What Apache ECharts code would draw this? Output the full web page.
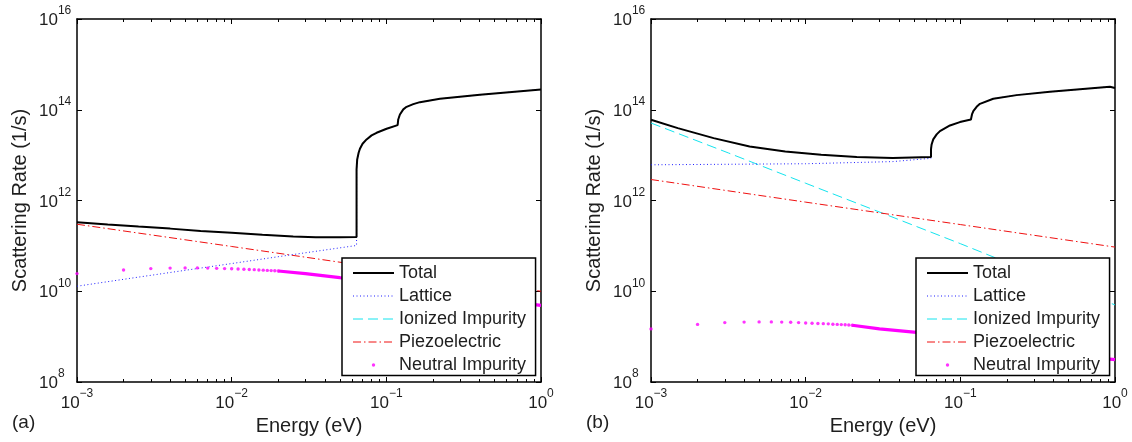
<!DOCTYPE html>
<html>
<head>
<meta charset="utf-8">
<script src="https://cdn.jsdelivr.net/npm/echarts@6/dist/echarts.min.js"></script>
<style>
  html, body { margin: 0; padding: 0; background: #ffffff; }
  #chart { width: 1132px; height: 442px; }
</style>
</head>
<body>
<div id="chart"></div>
<script>
// ---- axis ticks -------------------------------------------------------
const energyTicks = [0.001, 0.01, 0.1, 1];
const rateTicks = [1e8, 1e10, 1e12, 1e14, 1e16];

const legendNames = ['Total', 'Lattice', 'Ionized Impurity', 'Piezoelectric', 'Neutral Impurity'];
const panelTags = ['(a)', '(b)'];
const energyTitle = 'Energy (eV)';
const rateTitle = 'Scattering Rate (1/s)';

// ---- panel (a) ----------------------------------------------------------
const totalA_E = [0.001, 0.00158, 0.0025, 0.004, 0.0063, 0.01, 0.0158, 0.025, 0.035, 0.05,
  0.0642, 0.0642, 0.0648, 0.0662, 0.0675, 0.0702, 0.0745, 0.0803, 0.0865, 0.1004,
  0.1183, 0.1194, 0.1224, 0.1287, 0.1352, 0.1493, 0.1649, 0.2221, 0.4029, 1.0];
const totalA_R = [3.31e11, 2.95e11, 2.66e11, 2.40e11, 2.14e11, 1.95e11, 1.76e11, 1.60e11, 1.55e11, 1.55e11,
  1.57e11, 4.84e12, 8.04e12, 1.13e13, 1.38e13, 1.78e13, 2.22e13, 2.72e13, 3.11e13, 3.81e13,
  4.59e13, 6.11e13, 7.88e13, 1.02e14, 1.16e14, 1.33e14, 1.47e14, 1.74e14, 2.14e14, 2.80e14];

const latticeA_E = [0.001, 0.0025, 0.01, 0.025, 0.0642, 0.0642, 0.0648, 0.0662, 0.0675, 0.0702,
  0.0745, 0.0803, 0.0865, 0.1004, 0.1183, 0.1194, 0.1224, 0.1287, 0.1352, 0.1493,
  0.1649, 0.2221, 0.4029, 1.0];
const latticeA_R = [1.29e10, 2.05e10, 4.08e10, 6.45e10, 1.02e11, 4.80e12, 8.00e12, 1.12e13, 1.37e13, 1.77e13,
  2.21e13, 2.71e13, 3.10e13, 3.80e13, 4.58e13, 6.10e13, 7.87e13, 1.02e14, 1.16e14, 1.33e14,
  1.47e14, 1.74e14, 2.14e14, 2.80e14];

const ionizedA_E = [];
const ionizedA_R = [];

const piezoA_E = [0.001, 0.01, 0.1, 1.0];
const piezoA_R = [3.0e11, 9.7e10, 3.1e10, 1.0e10];

// neutral impurity: individual samples every 1 meV, then the merged band
const neutralA_E = [0.001, 0.002, 0.003, 0.004, 0.005, 0.006, 0.007, 0.008, 0.009, 0.010,
  0.011, 0.012, 0.013, 0.014, 0.015, 0.016, 0.017, 0.018, 0.019, 0.020];
const neutralA_R = [2.45e10, 2.95e10, 3.16e10, 3.24e10, 3.27e10, 3.27e10, 3.24e10, 3.20e10, 3.16e10, 3.13e10,
  3.09e10, 3.05e10, 3.02e10, 2.99e10, 2.95e10, 2.92e10, 2.88e10, 2.85e10, 2.82e10, 2.79e10];
const neutralBandA_E = [0.02, 0.03, 0.05, 0.07, 0.1, 0.2, 0.3, 0.5, 0.7, 1.0];
const neutralBandA_R = [2.79e10, 2.45e10, 2.00e10, 1.78e10, 1.51e10, 1.07e10, 8.7e9, 6.6e9, 5.6e9, 4.9e9];

// ---- panel (b) ----------------------------------------------------------
const totalB_E = [0.001, 0.00149, 0.00254, 0.00434, 0.00738, 0.0126, 0.0214, 0.0365, 0.0646,
  0.0646, 0.0652, 0.0668, 0.0703, 0.0738, 0.0857, 0.0993, 0.1171, 0.1189, 0.1213, 0.1274,
  0.1339, 0.1633, 0.2310, 0.3795, 0.927, 1.0];
const totalB_R = [6.01e13, 3.94e13, 2.37e13, 1.55e13, 1.20e13, 1.02e13, 9.04e12, 8.59e12, 9.06e12,
  1.34e13, 1.72e13, 2.22e13, 2.86e13, 3.38e13, 4.51e13, 5.35e13, 6.11e13, 7.88e13, 9.33e13, 1.16e14,
  1.35e14, 1.75e14, 2.10e14, 2.49e14, 3.21e14, 3.02e14];

const latticeB_E = [0.001, 0.01, 0.0365, 0.0646,
  0.0646, 0.0652, 0.0668, 0.0703, 0.0738, 0.0857, 0.0993, 0.1171, 0.1189, 0.1213, 0.1274,
  0.1339, 0.1633, 0.2310, 0.3795, 0.927, 1.0];
const latticeB_R = [6.12e12, 6.46e12, 7.20e12, 8.50e12,
  1.30e13, 1.68e13, 2.18e13, 2.82e13, 3.34e13, 4.47e13, 5.31e13, 6.07e13, 7.84e13, 9.29e13, 1.16e14,
  1.35e14, 1.75e14, 2.10e14, 2.49e14, 3.21e14, 3.02e14];

const ionizedB_E = [0.001, 0.00316, 0.01, 0.0316, 0.1, 0.316, 1.0];
const ionizedB_R = [5.1e13, 1.12e13, 2.4e12, 5.2e11, 1.12e11, 2.3e10, 5.0e9];

const piezoB_E = [0.001, 0.01, 0.1, 1.0];
const piezoB_R = [2.9e12, 9.2e11, 2.95e11, 9.4e10];

const neutralB_E = [0.001, 0.002, 0.003, 0.004, 0.005, 0.006, 0.007, 0.008, 0.009, 0.010,
  0.011, 0.012, 0.013, 0.014, 0.015, 0.016, 0.017, 0.018, 0.019, 0.020];
const neutralB_R = [1.48e9, 1.86e9, 2.04e9, 2.09e9, 2.11e9, 2.11e9, 2.09e9, 2.07e9, 2.04e9, 2.00e9,
  1.97e9, 1.95e9, 1.93e9, 1.91e9, 1.88e9, 1.86e9, 1.84e9, 1.82e9, 1.80e9, 1.78e9];
const neutralBandB_E = [0.02, 0.03, 0.05, 0.07, 0.1, 0.2, 0.3, 0.5, 0.7, 1.0];
const neutralBandB_R = [1.78e9, 1.48e9, 1.26e9, 1.12e9, 9.5e8, 6.8e8, 5.5e8, 4.2e8, 3.5e8, 3.1e8];

// ---- styling -------------------------------------------------------------
const FONT = 'Liberation Sans, Arial, Helvetica, sans-serif';
const TEXT = '#1e1e1e';
const AXIS = '#000000';
const COLORS = {
  total: '#000000',
  lattice: '#1f1fff',
  ionized: '#14e4ee',
  piezo: '#f01010',
  neutral: '#ff00ff'
};
const DASH = {
  lattice: [1, 2.5],
  ionized: [10, 5],
  piezo: [8, 3, 1.5, 3]
};

const panels = [
  { total: [totalA_E, totalA_R], lattice: [latticeA_E, latticeA_R], ionized: [ionizedA_E, ionizedA_R],
    piezo: [piezoA_E, piezoA_R], neutral: [neutralA_E, neutralA_R], band: [neutralBandA_E, neutralBandA_R] },
  { total: [totalB_E, totalB_R], lattice: [latticeB_E, latticeB_R], ionized: [ionizedB_E, ionizedB_R],
    piezo: [piezoB_E, piezoB_R], neutral: [neutralB_E, neutralB_R], band: [neutralBandB_E, neutralBandB_R] }
];

const gridLeft = [77, 651];
const gridTop = 19;
const gridWidth = 464;
const gridHeight = 363;

function pairs(xs, ys) {
  return xs.map(function (x, i) { return [x, ys[i]]; });
}

function powerLabel(v) {
  const e = Math.round(Math.log10(v));
  return '{b|10}{s|' + (e < 0 ? '\u2212' + (-e) : String(e)) + '}';
}

const labelRich = {
  b: { fontSize: 17, fontFamily: FONT, color: TEXT, padding: [7, 0, 0, 0] },
  s: { fontSize: 12, fontFamily: FONT, color: TEXT, verticalAlign: 'top' }
};

function axisLineStyle() { return { show: true, lineStyle: { color: AXIS, width: 1.5 } }; }
function tickLine() { return { color: AXIS, width: 1 }; }

// minor ticks at 2..9 of each decade, on both the lower and the upper energy axis
function energyAxes(p) {
  const base = { type: 'log', logBase: 10, gridIndex: p, min: 0.001, max: 1,
    splitLine: { show: false }, minorSplitLine: { show: false },
    minorTick: { show: true, splitNumber: 9, length: 3, lineStyle: tickLine() } };
  return [
    Object.assign({}, base, {
      position: 'bottom',
      axisLine: axisLineStyle(),
      axisTick: { show: true, inside: true, length: 5, customValues: energyTicks, lineStyle: tickLine() },
      axisLabel: { show: true, customValues: energyTicks, formatter: powerLabel, margin: 6, rich: labelRich },
      name: energyTitle, nameLocation: 'middle', nameGap: 31,
      nameTextStyle: { fontSize: 20, color: TEXT, fontFamily: FONT }
    }),
    Object.assign({}, base, {
      position: 'top',
      axisLine: axisLineStyle(),
      axisTick: { show: true, inside: true, length: 5, customValues: energyTicks, lineStyle: tickLine() },
      axisLabel: { show: false }
    })
  ];
}

function rateAxes(p) {
  const base = { type: 'log', logBase: 10, gridIndex: p, min: 1e8, max: 1e16,
    splitLine: { show: false }, minorTick: { show: false }, minorSplitLine: { show: false } };
  return [
    Object.assign({}, base, {
      position: 'left',
      axisLine: axisLineStyle(),
      axisTick: { show: true, inside: true, length: 5, customValues: rateTicks, lineStyle: tickLine() },
      axisLabel: { show: true, customValues: rateTicks, formatter: powerLabel, align: 'left', margin: 38,
        padding: [0, 0, 4, 0], rich: labelRich },
      name: rateTitle, nameLocation: 'middle', nameGap: 47,
      nameTextStyle: { fontSize: 20, color: TEXT, fontFamily: FONT }
    }),
    Object.assign({}, base, {
      position: 'right',
      axisLine: axisLineStyle(),
      axisTick: { show: true, inside: true, length: 5, customValues: rateTicks, lineStyle: tickLine() },
      axisLabel: { show: false }
    })
  ];
}

function panelSeries(p) {
  const d = panels[p];
  const xi = p * 2, yi = p * 2;
  const lineBase = { type: 'line', xAxisIndex: xi, yAxisIndex: yi, symbol: 'none', showSymbol: false,
    animation: false, silent: true, clip: true };
  return [
    Object.assign({}, lineBase, { name: legendNames[2], z: 2, data: pairs(d.ionized[0], d.ionized[1]),
      lineStyle: { color: COLORS.ionized, width: 1, type: DASH.ionized }, itemStyle: { color: COLORS.ionized } }),
    Object.assign({}, lineBase, { name: legendNames[3], z: 2, data: pairs(d.piezo[0], d.piezo[1]),
      lineStyle: { color: COLORS.piezo, width: 1, type: DASH.piezo }, itemStyle: { color: COLORS.piezo } }),
    Object.assign({}, lineBase, { name: legendNames[1], z: 2, data: pairs(d.lattice[0], d.lattice[1]),
      lineStyle: { color: COLORS.lattice, width: 1, type: DASH.lattice }, itemStyle: { color: COLORS.lattice } }),
    { type: 'scatter', name: legendNames[4], xAxisIndex: xi, yAxisIndex: yi, z: 2, animation: false, silent: true,
      symbol: 'circle', symbolSize: 3.4, data: pairs(d.neutral[0], d.neutral[1]),
      itemStyle: { color: COLORS.neutral } },
    Object.assign({}, lineBase, { name: legendNames[4], z: 2, data: pairs(d.band[0], d.band[1]),
      lineStyle: { color: COLORS.neutral, width: 3.2 }, itemStyle: { color: COLORS.neutral } }),
    Object.assign({}, lineBase, { name: legendNames[0], z: 3, data: pairs(d.total[0], d.total[1]),
      lineStyle: { color: COLORS.total, width: 2 }, itemStyle: { color: COLORS.total } })
  ];
}

// legend icon for the dot marker: bounding box matches the line samples
const DOT_ICON = 'path://M0 0M41 14M18.8 7a1.7 1.7 0 1 0 3.4 0a1.7 1.7 0 1 0 -3.4 0z';

function legendFor(p) {
  return {
    orient: 'vertical',
    left: [342, 916][p],
    top: 258,
    z: 20,
    itemWidth: 41,
    itemHeight: 14,
    itemGap: 5,
    padding: [6, 9.5, 1.5, 10],
    borderColor: '#000',
    borderWidth: 1.5,
    borderRadius: 0,
    backgroundColor: '#ffffff',
    selectedMode: false,
    textStyle: { fontSize: 18, color: TEXT, fontFamily: FONT },
    data: [
      { name: legendNames[0], itemStyle: { opacity: 0 },
        lineStyle: { color: COLORS.total, width: 2 } },
      { name: legendNames[1], itemStyle: { opacity: 0 },
        lineStyle: { color: COLORS.lattice, width: 1, type: DASH.lattice } },
      { name: legendNames[2], itemStyle: { opacity: 0 },
        lineStyle: { color: COLORS.ionized, width: 1, type: DASH.ionized } },
      { name: legendNames[3], itemStyle: { opacity: 0 },
        lineStyle: { color: COLORS.piezo, width: 1, type: DASH.piezo } },
      { name: legendNames[4], icon: DOT_ICON, itemStyle: { color: COLORS.neutral } }
    ]
  };
}

const chart = echarts.init(document.getElementById('chart'), null, { renderer: 'canvas' });
chart.setOption({
  animation: false,
  backgroundColor: '#ffffff',
  textStyle: { fontFamily: FONT },
  grid: [0, 1].map(function (p) {
    return { left: gridLeft[p], top: gridTop, width: gridWidth, height: gridHeight, containLabel: false };
  }),
  xAxis: energyAxes(0).concat(energyAxes(1)),
  yAxis: rateAxes(0).concat(rateAxes(1)),
  legend: [legendFor(0), legendFor(1)],
  series: panelSeries(0).concat(panelSeries(1)),
  graphic: [0, 1].map(function (p) {
    return { type: 'text', left: [12, 586][p], top: 413,
      style: { text: panelTags[p], fontSize: 19, fontFamily: FONT, fill: TEXT } };
  })
});
</script>
</body>
</html>
